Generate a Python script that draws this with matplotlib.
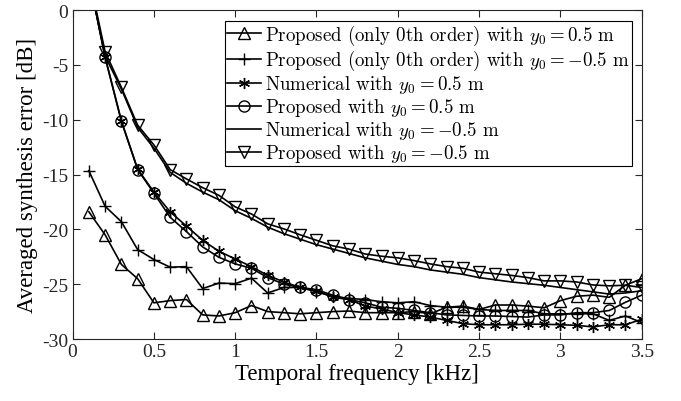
import matplotlib
matplotlib.use("Agg")
import matplotlib.pyplot as plt
import numpy as np

plt.rcParams['font.family'] = ['Liberation Serif', 'DejaVu Serif']
plt.rcParams['mathtext.fontset'] = 'cm'
plt.rcParams['axes.unicode_minus'] = False

freq = np.round(np.arange(0.1, 3.51, 0.1), 1)

# Proposed (only 0th order), y0 = 0.5 m
only0_pos = [-18.4, -20.5, -23.2, -24.5, -26.7, -26.5, -26.4, -27.8, -27.9, -27.6,
             -26.95, -27.5, -27.6, -27.7, -27.6, -27.5, -27.45, -27.6, -27.6, -27.6,
             -27.5, -27.7, -27.1, -27.0, -27.3, -26.9, -26.9, -27.0, -27.15, -26.5,
             -26.1, -26.0, -26.2, -25.1, -24.5]
# Proposed (only 0th order), y0 = -0.5 m
only0_neg = [-14.65, -17.9, -19.3, -21.85, -22.75, -23.45, -23.4, -25.4, -24.9, -24.95,
             -24.45, -25.8, -25.3, -25.3, -25.7, -26.1, -26.3, -26.4, -26.6, -26.7,
             -26.6, -26.95, -27.1, -27.1, -27.3, -27.4, -27.4, -27.4, -27.7, -27.7,
             -27.7, -27.7, -28.3, -27.9, -28.5]
# Numerical, y0 = 0.5 m
num_pos = [3.0, -4.3, -10.1, -14.5, -16.6, -18.4, -19.7, -21.0, -22.0, -22.7,
           -23.4, -24.2, -24.8, -25.3, -25.6, -26.2, -26.4, -27.0, -27.25, -27.6,
           -27.8, -28.0, -28.3, -28.6, -28.7, -28.7, -28.7, -28.65, -28.65, -28.7,
           -28.75, -28.9, -28.7, -28.7, -28.2]
# Proposed, y0 = 0.5 m
prop_pos = [3.0, -4.3, -10.15, -14.55, -16.7, -18.9, -20.2, -21.6, -22.55, -23.15,
            -23.55, -24.4, -25.0, -25.3, -25.5, -26.0, -26.4, -26.7, -27.1, -27.2,
            -27.4, -27.6, -27.8, -27.85, -27.9, -27.9, -27.95, -28.0, -27.8, -27.8,
            -27.6, -27.6, -27.4, -26.65, -26.0]
# Numerical, y0 = -0.5 m
num_neg = [3.0, -4.2, -7.2, -10.7, -12.6, -14.8, -15.8, -16.6, -17.3, -18.3,
           -19.0, -19.8, -20.4, -20.9, -21.4, -21.8, -22.2, -22.6, -22.9, -23.2,
           -23.4, -23.7, -23.9, -24.1, -24.4, -24.6, -24.8, -24.95, -25.1, -25.3,
           -25.5, -25.7, -25.9, -25.8, -25.6]
# Proposed, y0 = -0.5 m
prop_neg = [3.1, -3.8, -7.05, -10.5, -12.3, -14.55, -15.4, -16.2, -16.9, -17.95,
            -18.6, -19.5, -19.96, -20.5, -21.0, -21.5, -21.8, -22.25, -22.45, -22.6,
            -22.85, -23.15, -23.4, -23.55, -23.9, -24.05, -24.2, -24.4, -24.7, -24.7,
            -24.8, -25.07, -25.15, -25.1, -25.3]

labels = [r'Proposed (only 0th order) with $y_0 = 0.5$ m',
          r'Proposed (only 0th order) with $y_0 = -0.5$ m',
          r'Numerical with $y_0 = 0.5$ m',
          r'Proposed with $y_0 = 0.5$ m',
          r'Numerical with $y_0 = -0.5$ m',
          r'Proposed with $y_0 = -0.5$ m']

fig = plt.figure(figsize=(6.81, 4.02), dpi=100)
ax = fig.add_axes([0.1066, 0.1542, 0.8357, 0.8184])

kw = dict(color='k', lw=1.2, markersize=8, markerfacecolor='none', markeredgewidth=1.0)
ax.plot(freq, only0_pos, marker='^', label=labels[0], **kw)
ax.plot(freq, only0_neg, marker='+', label=labels[1], **kw)
ax.plot(freq, num_pos, marker=(6, 2, 0), label=labels[2], **kw)
ax.plot(freq, prop_pos, marker='o', label=labels[3], **kw)
ax.plot(freq, num_neg, label=labels[4], color='k', lw=1.2)
ax.plot(freq, prop_neg, marker='v', label=labels[5], **kw)

ax.set_xlim(0, 3.5)
ax.set_ylim(-30, 0)
ax.set_xticks(np.arange(0, 3.51, 0.5))
ax.set_xticklabels(['0', '0.5', '1', '1.5', '2', '2.5', '3', '3.5'])
ax.set_yticks(np.arange(-30, 1, 5))
ax.tick_params(direction='in', top=True, right=True, labelsize=14, colors='#262626',
               length=5, width=0.8, pad=3)
for s in ax.spines.values():
    s.set_color('#262626')
    s.set_linewidth(0.8)
ax.set_xlabel('Temporal frequency [kHz]', fontsize=16.5, labelpad=2)
ax.set_ylabel('Averaged synthesis error [dB]', fontsize=16.5, labelpad=3)

leg = ax.legend(loc='upper right', bbox_to_anchor=(0.9824, 0.9675), borderaxespad=0,
                fancybox=False, edgecolor='k', framealpha=1,
                prop={'family': 'cmr10', 'size': 13.6}, handlelength=1.8,
                handletextpad=0.2, labelspacing=0.05, borderpad=0.12)
leg.get_frame().set_linewidth(0.8)

fig.savefig('out.png', dpi=100)
